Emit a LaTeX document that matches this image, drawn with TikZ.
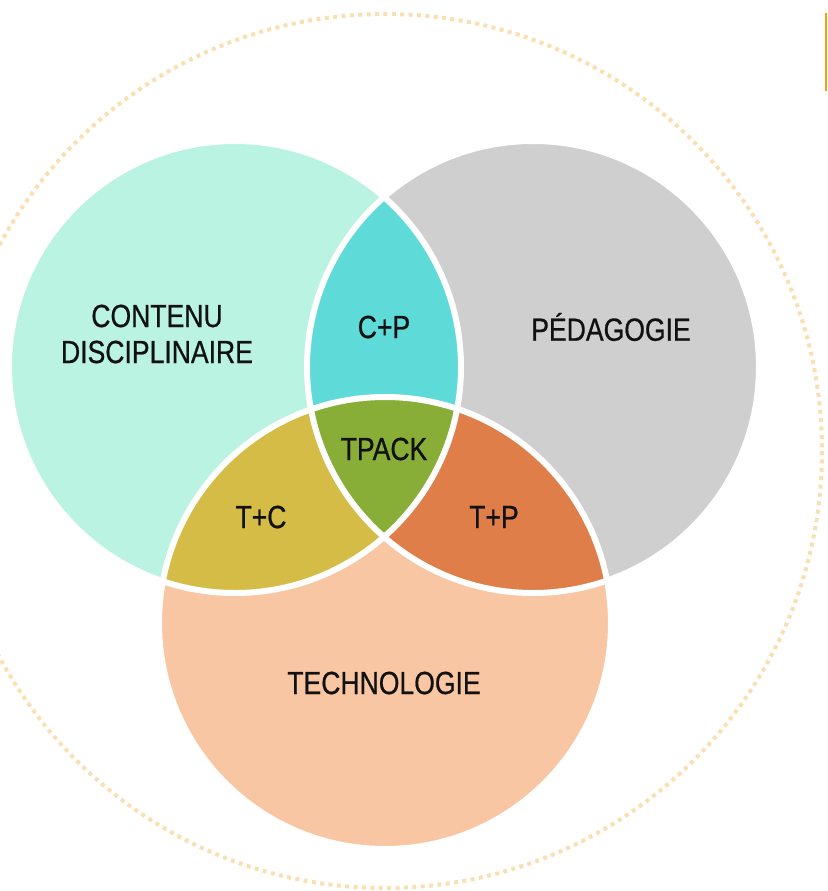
\documentclass[tikz,border=0pt]{standalone}
\usepackage{fontspec}
\setmainfont[FakeStretch=0.83,FakeBold=0.6]{Liberation Sans}
\definecolor{cC}{HTML}{BAF3E1}
\definecolor{cP}{HTML}{CFCFCF}
\definecolor{cT}{HTML}{F8C6A2}
\definecolor{cCP}{HTML}{5EDBD8}
\definecolor{cTC}{HTML}{D4BC47}
\definecolor{cTP}{HTML}{E07E49}
\definecolor{cTPACK}{HTML}{88AE37}
\definecolor{dotcol}{HTML}{F9DFB2}
\definecolor{barcol}{HTML}{F0A30A}
\definecolor{txt}{HTML}{111111}
\begin{document}
\begin{tikzpicture}[x=1pt,y=-1pt,
  lbl/.style={text=txt,font=\fontsize{32}{36}\selectfont,align=center,inner sep=0pt},
  sep/.style={draw=white,line width=6pt}]
\useasboundingbox (0,0) rectangle (827,891);
\coordinate (C) at (235,367);
\coordinate (P) at (533,367);
\coordinate (T) at (385,623);
\coordinate (O) at (385,451);
% outer dotted circle
\draw[dotcol,line width=4pt,dash pattern=on 4pt off 4.4pt] (O) circle (437);
% accent bar
\fill[barcol] (825,13) rectangle (827,91);
% base circles
\fill[cC] (C) circle (226);
\fill[cP] (P) circle (226);
\fill[cT] (T) circle (226);
% pairwise intersections
\begin{scope}\clip (C) circle (226); \fill[cCP] (P) circle (226);\end{scope}
\begin{scope}\clip (C) circle (226); \fill[cTC] (T) circle (226);\end{scope}
\begin{scope}\clip (P) circle (226); \fill[cTP] (T) circle (226);\end{scope}
\begin{scope}\clip (C) circle (226); \clip (P) circle (226); \fill[cTPACK] (T) circle (226);\end{scope}
% separators
\draw[sep] (C) circle (226);
\draw[sep] (P) circle (226);
\draw[sep] (T) circle (226);
% labels
\node[lbl] (lC) at (157,334) {CONTENU\\DISCIPLINAIRE};
\node[lbl] (lCP) at (384,327) {C+P};
\node[lbl] (lP) at (611,327) {PÉDAGOGIE};
\node[lbl] (lTPACK) at (384,449) {TPACK};
\node[lbl] (lTC) at (261,517) {T+C};
\node[lbl] (lTP) at (494,517) {T+P};
\node[lbl] (lT) at (384,683) {TECHNOLOGIE};
\end{tikzpicture}
\end{document}
